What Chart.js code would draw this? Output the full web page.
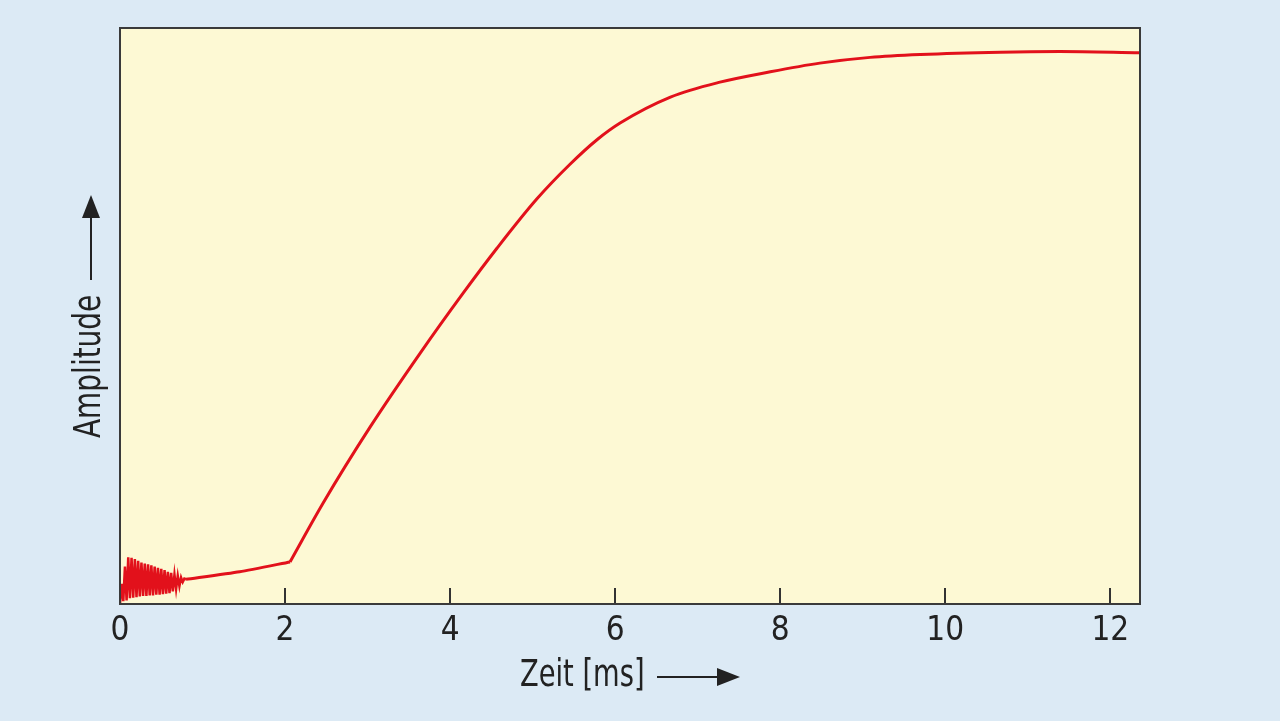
<!DOCTYPE html>
<html>
<head>
<meta charset="utf-8">
<script src="https://cdn.jsdelivr.net/npm/chart.js@4"></script>
<style>
  html, body { margin: 0; padding: 0; background: #dceaf5; }
  #wrap { width: 1280px; height: 721px; }
</style>
</head>
<body>
<div id="wrap"><canvas id="chart" width="1280" height="721"></canvas></div>
<script>
// oscillation at switch-on (0 .. 0.8 ms)
const oscTime = [0, 0.02, 0.04, 0.06, 0.08, 0.10, 0.12, 0.14, 0.16, 0.18, 0.20, 0.22, 0.24, 0.26, 0.28, 0.30,
    0.32, 0.34, 0.36, 0.38, 0.40, 0.42, 0.44, 0.46, 0.48, 0.50, 0.52, 0.54, 0.56, 0.58, 0.60, 0.62, 0.64,
    0.66, 0.68, 0.70, 0.72, 0.74, 0.76, 0.78, 0.80];
const oscAmp = [0, 3.5, 0.5, 6.5, 0.6, 8.1, 1.0, 8.0, 1.1, 7.8, 1.2, 7.5, 1.3, 7.2, 1.4, 7.0,
    1.4, 6.9, 1.5, 6.7, 1.5, 6.5, 1.6, 6.3, 1.6, 6.1, 1.7, 5.9, 1.8, 5.6, 1.9, 5.4, 2.2,
    5.1, 2.6, 4.9, 3.1, 4.6, 3.8, 4.4, 4.3];

// slow creep up to the kink at ~2 ms
const baseTime = [0.80, 1.45, 2.06];
const baseAmp = [4.3, 5.6, 7.3];

// main rise after the kink
const riseTime = [2.06, 2.46, 3.03, 3.64, 4.16, 4.57, 5.05, 5.45, 5.78, 6.06, 6.67, 7.27, 7.88,
    8.48, 9.09, 9.70, 10.67, 11.39, 12.36];
const riseAmp = [7.3, 17.5, 30.7, 43.6, 54.0, 61.8, 70.3, 76.3, 80.6, 83.5, 88.0, 90.6, 92.4,
    93.9, 94.9, 95.4, 95.8, 95.9, 95.7];

const xTicks = [0, 2, 4, 6, 8, 10, 12];
const xMax = 12.36;

const FONT = '"DejaVu Sans Condensed", "Liberation Sans Narrow", sans-serif';
const RED = '#e2111b';
const INK = '#222222';

function pts(xs, ys) {
    return xs.map((x, i) => ({ x: x, y: ys[i] }));
}

// condensed text: font is squeezed sideways to match the narrow type of the original
function narrowText(ctx, text, x, y, squeeze) {
    ctx.save();
    ctx.translate(x, y);
    ctx.scale(squeeze, 1);
    ctx.fillText(text, 0, 0);
    ctx.restore();
}

// plot background + frame + axis titles with arrows
const decor = {
    id: 'decor',
    beforeDraw(chart) {
        const { ctx, chartArea: a } = chart;
        ctx.save();
        ctx.fillStyle = '#fdf9d4';
        ctx.fillRect(a.left, a.top, a.right - a.left, a.bottom - a.top);
        ctx.restore();
    },
    afterDraw(chart) {
        const { ctx, chartArea: a } = chart;
        ctx.save();
        ctx.strokeStyle = '#3a3a3a';
        ctx.lineWidth = 2;
        ctx.strokeRect(a.left, a.top, a.right - a.left, a.bottom - a.top);

        ctx.fillStyle = INK;
        ctx.strokeStyle = INK;
        ctx.font = '37px ' + FONT;
        ctx.textAlign = 'left';
        ctx.textBaseline = 'alphabetic';

        // x title
        narrowText(ctx, 'Zeit [ms]', 520, 686, 0.82);
        ctx.lineWidth = 2;
        ctx.beginPath();
        ctx.moveTo(657, 677);
        ctx.lineTo(720, 677);
        ctx.stroke();
        ctx.beginPath();
        ctx.moveTo(740, 677);
        ctx.lineTo(717, 668);
        ctx.lineTo(717, 686);
        ctx.closePath();
        ctx.fill();

        // y title
        ctx.save();
        ctx.translate(100, 438);
        ctx.rotate(-Math.PI / 2);
        narrowText(ctx, 'Amplitude', 0, 0, 0.84);
        ctx.restore();
        ctx.beginPath();
        ctx.moveTo(91, 280);
        ctx.lineTo(91, 215);
        ctx.stroke();
        ctx.beginPath();
        ctx.moveTo(91, 195);
        ctx.lineTo(82, 218);
        ctx.lineTo(100, 218);
        ctx.closePath();
        ctx.fill();
        ctx.restore();
    }
};

new Chart(document.getElementById('chart'), {
    type: 'line',
    data: {
        datasets: [
            { data: pts(oscTime, oscAmp), borderColor: RED, borderWidth: 2.5, pointRadius: 0, tension: 0 },
            { data: pts(baseTime, baseAmp), borderColor: RED, borderWidth: 3, pointRadius: 0, tension: 0.2 },
            { data: pts(riseTime, riseAmp), borderColor: RED, borderWidth: 3, pointRadius: 0,
              cubicInterpolationMode: 'monotone' }
        ]
    },
    options: {
        responsive: false,
        animation: false,
        layout: { padding: { left: 120, right: 140, top: 28, bottom: 0 } },
        plugins: { legend: { display: false }, tooltip: { enabled: false } },
        scales: {
            x: {
                type: 'linear',
                min: 0,
                max: xMax,
                afterBuildTicks: s => { s.ticks = xTicks.map(v => ({ value: v })); },
                afterFit: s => { s.height = 117; },
                grid: { drawOnChartArea: false, tickLength: -16, color: '#333', lineWidth: 2 },
                border: { display: false },
                ticks: { padding: 24, color: INK, font: { family: FONT, size: 33 } }
            },
            y: {
                display: false,
                min: 0,
                max: 100
            }
        }
    },
    plugins: [decor]
});
</script>
</body>
</html>
